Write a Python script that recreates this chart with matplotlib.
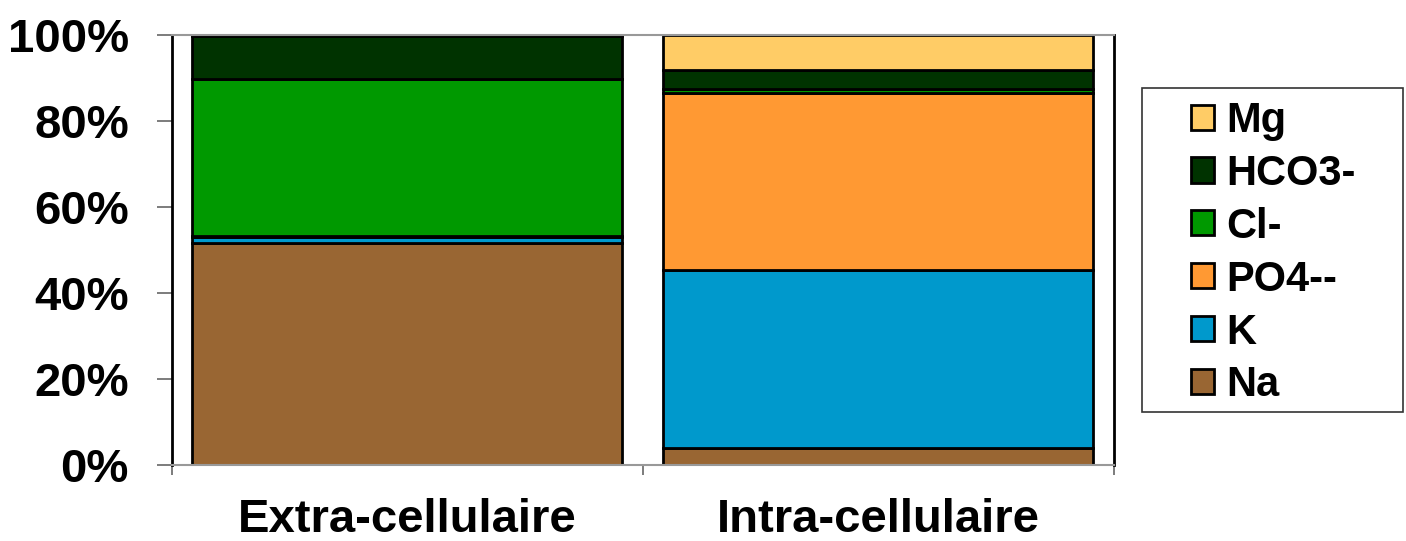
import matplotlib.pyplot as plt
import numpy as np
from matplotlib.patches import Rectangle

# data (percent of total)
categories = ["Extra-cellulaire", "Intra-cellulaire"]
ions = ["Na", "K", "PO4--", "Cl-", "HCO3-", "Mg"]
na = [51.7, 4.0]
k = [1.4, 41.3]
po4 = [0.2, 41.2]
cl = [36.5, 0.9]
hco3 = [9.9, 4.5]
mg = [0.3, 8.1]
colors = ["#996633", "#0099CC", "#FF9933", "#009900", "#003300", "#FFCC66"]

plt.rcParams["font.family"] = ["Liberation Sans", "DejaVu Sans"]
plt.rcParams["font.weight"] = "bold"

fig = plt.figure(figsize=(14.06, 5.41), dpi=100)
ax = fig.add_axes([0.1223, 0.1405, 0.670, 0.7948])

x = np.arange(len(categories))
bottom = np.zeros(len(categories))
handles = []
for name, vals, col in zip(ions, [na, k, po4, cl, hco3, mg], colors):
    h = ax.bar(x, vals, bottom=bottom, width=0.913, color=col, edgecolor="black",
               linewidth=2, label=name)
    handles.append(h)
    bottom += np.array(vals)

ax.set_xlim(-0.5, 1.5)
ax.set_ylim(0, 100)
ax.set_yticks(np.arange(0, 101, 20))
ax.set_yticklabels([f"{v}%" for v in range(0, 101, 20)], fontsize=34, fontweight="bold")
ax.tick_params(axis="y", length=11, width=1.2, color="#666666", pad=20)

ax.set_xticks([-0.5, 0.5, 1.5])
ax.set_xticklabels([])
ax.tick_params(axis="x", which="major", length=7, width=1.2, color="#666666")
ax.set_xticks(x, minor=True)
ax.set_xticklabels(categories, minor=True, fontsize=34, fontweight="bold")
ax.tick_params(axis="x", which="minor", length=0, pad=24)

for side in ["left", "right"]:
    ax.spines[side].set_color("black")
    ax.spines[side].set_linewidth(2)
for side in ["top", "bottom"]:
    ax.spines[side].set_color("#999999")
    ax.spines[side].set_linewidth(1.5)

# legend box drawn separately, entries placed inside it
fig.patches.append(Rectangle((1142 / 1406, 1 - 412 / 541), 261 / 1406, 324 / 541,
                             transform=fig.transFigure, facecolor="white",
                             edgecolor="#333333", linewidth=1.2))
leg = fig.legend(handles[::-1], ions[::-1], loc="upper left",
                 bbox_to_anchor=(1170 / 1406, 1 - 80 / 541), fontsize=30, frameon=False,
                 handlelength=0.55, handleheight=0.55, handletextpad=0.3,
                 labelspacing=0.31, borderpad=0.0)
for t in leg.get_texts():
    t.set_fontweight("bold")
for p in leg.legend_handles:
    p.set_linewidth(2)

fig.savefig("out.png", dpi=100)
